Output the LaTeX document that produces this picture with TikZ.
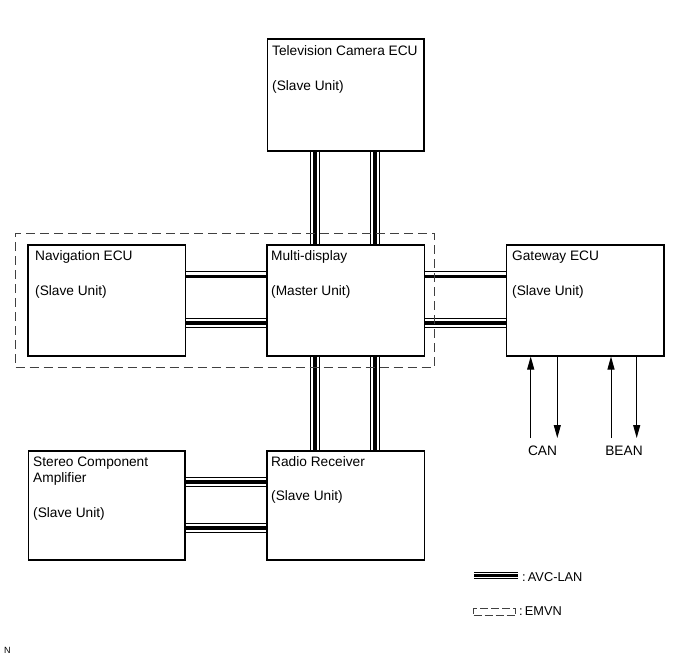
\documentclass[tikz,border=0pt]{standalone}
\usepackage{fontspec}
\setmainfont{Liberation Sans}
\usetikzlibrary{arrows.meta,calc}
\begin{document}
\begin{tikzpicture}[x=1pt,y=-1pt,
  box/.style={draw=black, line width=1.5pt, rectangle, inner sep=0pt, anchor=north west},
  lbl/.style={font=\fontsize{13.7}{16}\selectfont, anchor=base west, inner sep=0pt},
  leglbl/.style={font=\fontsize{12.8}{15}\selectfont, anchor=base west, inner sep=0pt},
  bus/.style={draw=black, line width=10pt, postaction={draw=white, line width=8.2pt}, postaction={draw=black, line width=3.8pt}},
  legbus/.style={draw=black, line width=6.4pt, postaction={draw=white, line width=4.8pt}, postaction={draw=black, line width=2.4pt}},
  emvnline/.style={draw=black!75, line width=1.1pt, dash pattern=on 9pt off 5pt},
  sig/.style={draw=black, line width=1pt, -{Triangle[length=13pt,width=7pt]}},
]
\useasboundingbox (0,0) rectangle (690,659);

% boxes
\node[box, minimum width=156.5pt, minimum height=112pt] (tv) at (266.5,38) {};
\node[box, minimum width=157.5pt, minimum height=111pt] (nav) at (27,244) {};
\node[box, minimum width=157.5pt, minimum height=111pt] (multi) at (266,244) {};
\node[box, minimum width=157.5pt, minimum height=111pt] (gw) at (505.5,244) {};
\node[box, minimum width=156.5pt, minimum height=109pt] (stereo) at (27.5,450) {};
\node[box, minimum width=157.5pt, minimum height=109pt] (radio) at (266,450) {};

% texts
\node[lbl] (tv1) at (272,55) {Television Camera ECU};
\node[lbl] (tv2) at (272,90) {(Slave Unit)};
\node[lbl] (nav1) at (35,260) {Navigation ECU};
\node[lbl] (nav2) at (35,295) {(Slave Unit)};
\node[lbl] (mu1) at (271,260) {Multi-display};
\node[lbl] (mu2) at (271,295) {(Master Unit)};
\node[lbl] (gw1) at (512,260) {Gateway ECU};
\node[lbl] (gw2) at (512,295) {(Slave Unit)};
\node[lbl] (st1) at (33,466.5) {Stereo Component};
\node[lbl] (st2) at (33,482.5) {Amplifier};
\node[lbl] (st3) at (33,517.5) {(Slave Unit)};
\node[lbl] (ra1) at (271,466.5) {Radio Receiver};
\node[lbl] (ra2) at (271,500) {(Slave Unit)};

% bus helper coordinates
\coordinate (vx1) at (314.7,0);
\coordinate (vx2) at (375,0);
\coordinate (hy1) at (0,276.4);
\coordinate (hy2) at (0,322.9);
\coordinate (hy3) at (0,481.7);
\coordinate (hy4) at (0,527.8);

% AVC-LAN buses
\draw[bus] (tv.south -| vx1) -- (multi.north -| vx1);
\draw[bus] (tv.south -| vx2) -- (multi.north -| vx2);
\draw[bus] (multi.south -| vx1) -- (radio.north -| vx1);
\draw[bus] (multi.south -| vx2) -- (radio.north -| vx2);
\draw[bus] (nav.east |- hy1) -- (multi.west |- hy1);
\draw[bus] (nav.east |- hy2) -- (multi.west |- hy2);
\draw[bus] (multi.east |- hy1) -- (gw.west |- hy1);
\draw[bus] (multi.east |- hy2) -- (gw.west |- hy2);
\draw[bus] (stereo.east |- hy3) -- (radio.west |- hy3);
\draw[bus] (stereo.east |- hy4) -- (radio.west |- hy4);

% EMVN dashed region
\node[emvnline, rectangle, inner sep=0pt, anchor=north west, minimum width=418.5pt, minimum height=134pt] (emvn) at (15,232.5) {};

% CAN / BEAN
\coordinate (canin) at (530.7,438);
\coordinate (canout) at (557.3,438);
\coordinate (beanin) at (611,438);
\coordinate (beanout) at (636.7,438);
\draw[sig] (canin) -- (canin |- gw.south);
\draw[sig] (canout |- gw.south) -- (canout);
\draw[sig] (beanin) -- (beanin |- gw.south);
\draw[sig] (beanout |- gw.south) -- (beanout);
\node[lbl, anchor=base] (can) at (542.5,455) {CAN};
\node[lbl, anchor=base] (bean) at (624,455) {BEAN};

% legend
\coordinate (la) at (474,575.5);
\coordinate (lb) at (518,575.5);
\draw[legbus] (la) -- (lb);
\node[leglbl] (avclbl) at (522,581) {:\,AVC-LAN};
\node[emvnline, dash pattern=on 8pt off 3pt, rectangle, inner sep=0pt, anchor=north west, minimum width=42pt, minimum height=7pt] (emvnleg) at (473,608) {};
\node[leglbl] (emvnlbl) at (519,615.5) {:\,EMVN};

\node[font=\fontsize{9}{10}\selectfont, anchor=base west, inner sep=0pt] (nmark) at (4,653) {N};
\end{tikzpicture}
\end{document}
